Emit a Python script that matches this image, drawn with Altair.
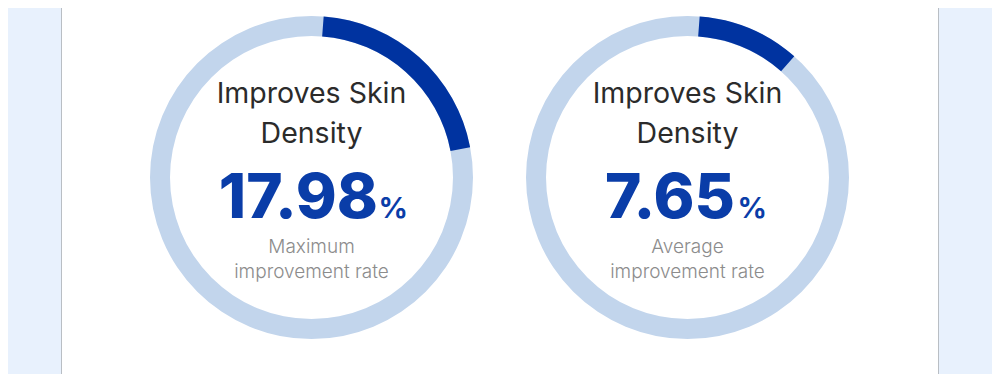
import altair as alt
import pandas as pd

# ---- data ----
rings = ["A", "B"]
values = ["17.98", "7.65"]
arc_start = [1.2, 1.2]       # percent of full circle where the dark arc begins
arc_end = [22.0, 11.5]       # percent of full circle where the dark arc ends
title_line1 = ["Improves Skin", "Improves Skin"]
title_line2 = ["Density", "Density"]
sub_line1 = ["Maximum", "Average"]
sub_line2 = ["improvement rate", "improvement rate"]

BG = "#e8f1fd"
LIGHT = "#c2d5ec"
DARK = "#0033a0"
NUM = "#0a3da8"
TITLE = "#2b2b2b"
SUB = "#8c8c8c"
FONT = "Inter"

track = pd.DataFrame({"ring": rings, "start": [0, 0], "end": [100, 100]})
prog = pd.DataFrame({"ring": rings, "start": arc_start, "end": arc_end})
labels = pd.DataFrame({
    "ring": rings, "value": values,
    "t1": title_line1, "t2": title_line2,
    "s1": sub_line1, "s2": sub_line2,
})

xscale = alt.Scale(type="point", domain=rings, range=[303.5, 679.5], padding=0)
X = alt.X("ring:N", scale=xscale, axis=None)
CY = 169.5

panel = alt.Chart(pd.DataFrame({"p": [0]})).mark_rect(
    fill="white", stroke="#b9bec4", strokeWidth=1
).encode(x=alt.value(53.5), x2=alt.value(930.5), y=alt.value(-10), y2=alt.value(400))

theta_scale = alt.Scale(domain=[0, 100], range=[0, 6.283185307])

track_l = alt.Chart(track).mark_arc(outerRadius=161.5, innerRadius=141.5, color=LIGHT).encode(
    x=X, y=alt.value(CY),
    theta=alt.Theta("start:Q", scale=theta_scale, stack=False),
    theta2="end:Q",
)
prog_l = alt.Chart(prog).mark_arc(outerRadius=161.5, innerRadius=141.5, color=DARK).encode(
    x=X, y=alt.value(CY),
    theta=alt.Theta("start:Q", scale=theta_scale, stack=False),
    theta2="end:Q",
)

def txt(field, y, size, color, weight, dx=0, align="center", data=labels):
    return alt.Chart(data).mark_text(
        font=FONT, fontSize=size, color=color, fontWeight=weight,
        baseline="alphabetic", align=align, dx=dx
    ).encode(x=X, y=alt.value(y), text=f"{field}:N")

layers = [panel, track_l, prog_l,
          txt("t1", 95, 28.5, TITLE, 400),
          txt("t2", 135, 28.5, TITLE, 400),
          txt("s1", 245, 19, SUB, 300),
          txt("s2", 270, 19, SUB, 300)]

# number + percent sign, centred as a group per ring
num_dx = {"A": 66.5, "B": 47.5}
pct_dx = {"A": 67, "B": 50}
for r in rings:
    sub = labels[labels.ring == r].assign(pct="%")
    layers.append(txt("value", 210, 62, NUM, 800, dx=num_dx[r], align="right", data=sub))
    layers.append(txt("pct", 210, 29, NUM, 700, dx=pct_dx[r], align="left", data=sub))

chart = alt.layer(*layers).properties(
    width=984, height=366, padding=0, autosize="none", background=BG
).configure_view(stroke=None)

chart.save("out.html", embed_options={"renderer": "svg", "actions": False})
